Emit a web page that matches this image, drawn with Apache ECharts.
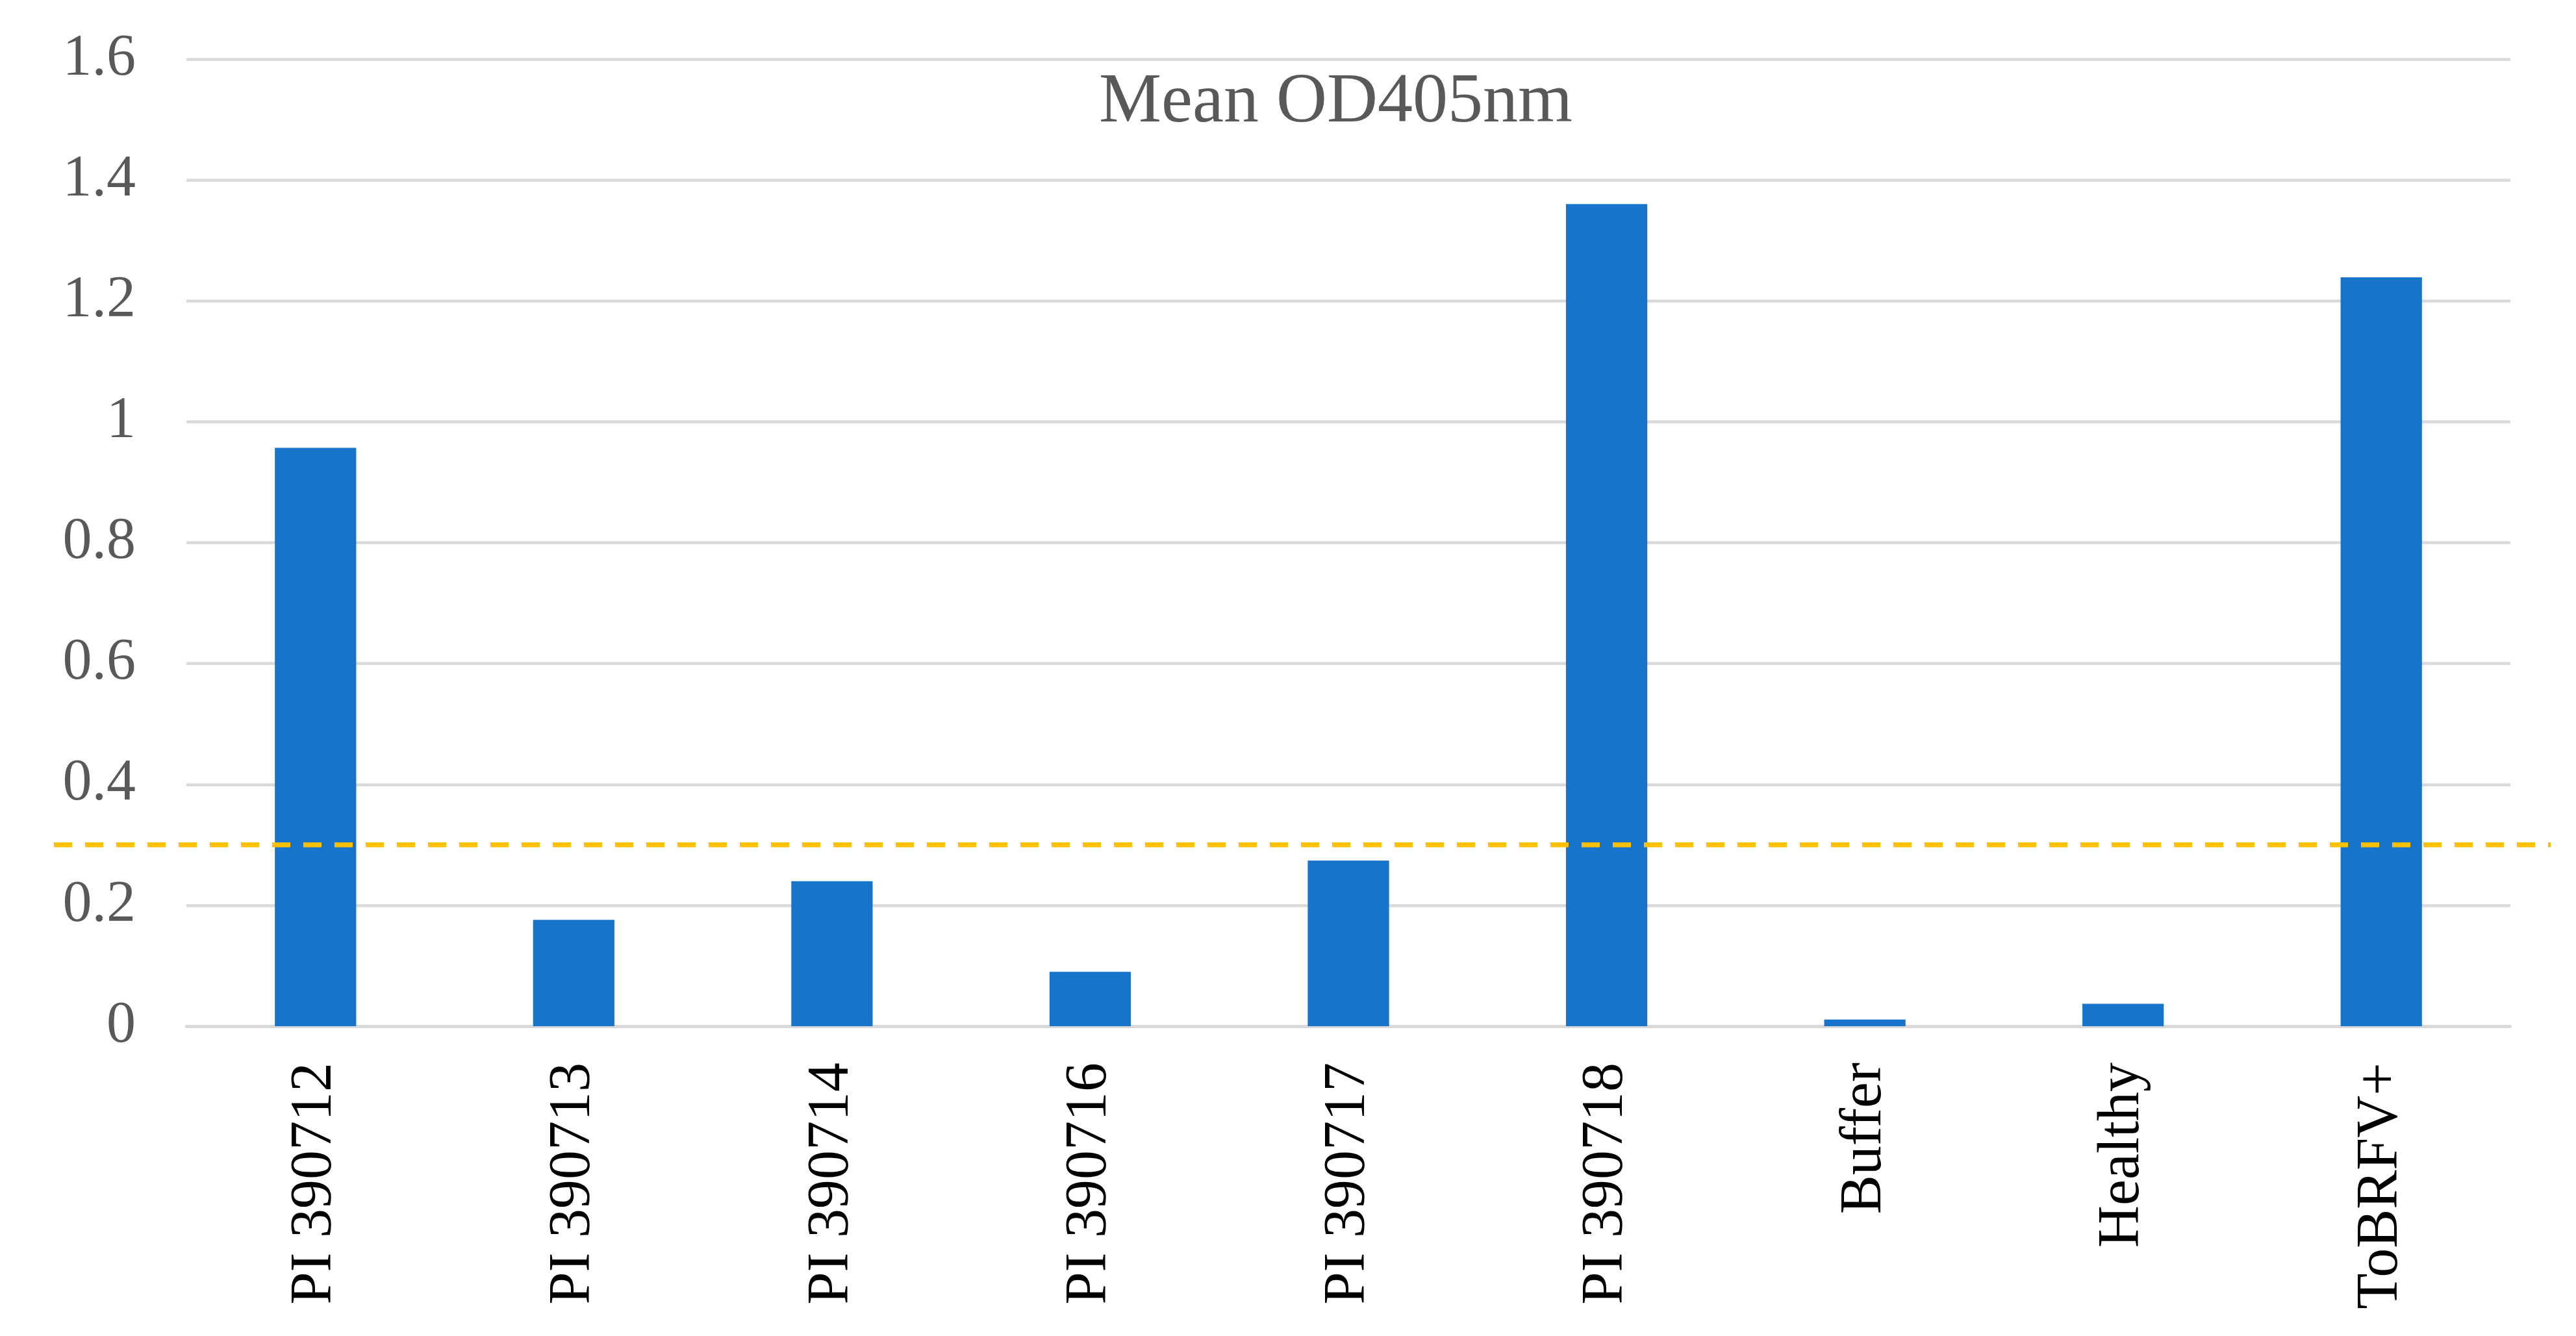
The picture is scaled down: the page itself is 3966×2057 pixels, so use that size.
<!DOCTYPE html>
<html>
<head>
<meta charset="utf-8">
<script src="https://cdn.jsdelivr.net/npm/echarts@6/dist/echarts.min.js"></script>
<style>
html,body{margin:0;padding:0;background:#fff;}
#chart{width:3966px;height:2057px;}
</style>
</head>
<body>
<div id="chart"></div>
<script>
const categories = ['PI 390712','PI 390713','PI 390714','PI 390716','PI 390717','PI 390718','Buffer','Healthy','ToBRFV+'];
const meanOD = [0.957, 0.176, 0.240, 0.090, 0.274, 1.360, 0.011, 0.037, 1.239];
const thresholdX = [0, 1];
const thresholdY = [0.3, 0.3];
const yMin = 0, yMax = 1.6, yStep = 0.2;

const FONT = "'Liberation Serif', 'Times New Roman', serif";
const chart = echarts.init(document.getElementById('chart'), null, {renderer: 'canvas'});
const gridTop = 91, gridBottom = 477;
chart.setOption({
  backgroundColor: '#ffffff',
  animation: false,
  title: {
    text: 'Mean OD405nm',
    left: 1692,
    top: 105,
    padding: 0,
    textStyle: {fontFamily: FONT, fontSize: 108, fontWeight: 'normal', color: '#595959', lineHeight: 108}
  },
  grid: [
    {left: 287, right: 101, top: gridTop, bottom: gridBottom},
    {left: 83, right: 39, top: gridTop, bottom: gridBottom}
  ],
  xAxis: [
    {
      type: 'category', gridIndex: 0, data: categories,
      axisLine: {show: true, lineStyle: {color: '#D9D9D9', width: 4.5}},
      axisTick: {show: false},
      axisLabel: {rotate: 90, margin: 56, fontFamily: FONT, fontSize: 90, color: '#000000', interval: 0}
    },
    {type: 'value', gridIndex: 1, min: 0, max: 1, show: false}
  ],
  yAxis: [
    {
      type: 'value', gridIndex: 0, min: yMin, max: yMax, interval: yStep,
      axisLine: {show: false}, axisTick: {show: false},
      splitLine: {show: true, lineStyle: {color: '#D9D9D9', width: 4.5}},
      axisLabel: {margin: 78, fontFamily: FONT, fontSize: 90, color: '#595959',
        formatter: v => String(Math.round(v * 10) / 10)}
    },
    {type: 'value', gridIndex: 1, min: yMin, max: yMax, show: false}
  ],
  series: [
    {
      type: 'bar', xAxisIndex: 0, yAxisIndex: 0, data: meanOD,
      barWidth: '31.5%',
      itemStyle: {color: '#1874CA'}
    },
    {
      type: 'line', xAxisIndex: 1, yAxisIndex: 1,
      data: thresholdX.map((x, i) => [x, thresholdY[i]]),
      symbol: 'none', z: 5,
      lineStyle: {color: '#FFC000', width: 7.5, type: [28, 20]}
    }
  ]
});
</script>
</body>
</html>
